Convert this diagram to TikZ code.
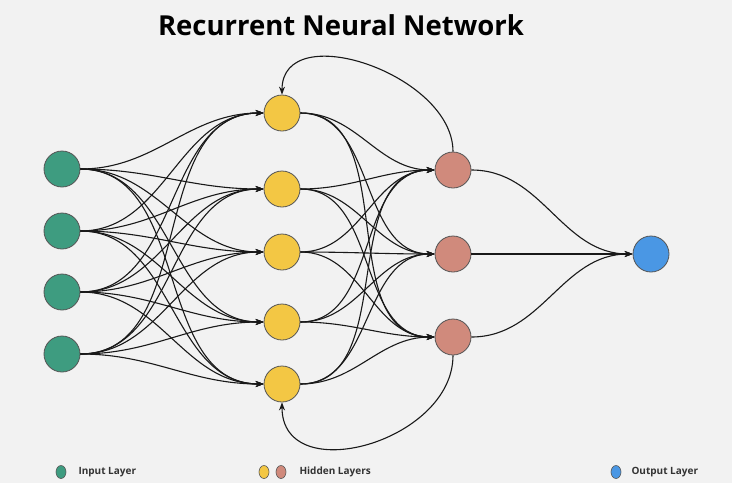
\documentclass[tikz,border=0pt]{standalone}
\usepackage{fontspec}
\setmainfont{Open Sans}
\usetikzlibrary{arrows.meta,shapes.geometric}

\definecolor{bgGray}{HTML}{F2F2F2}
\definecolor{inGreen}{HTML}{3E9C80}
\definecolor{hidYellow}{HTML}{F3C744}
\definecolor{hidRed}{HTML}{D08A7C}
\definecolor{outBlue}{HTML}{4A97E4}
\definecolor{rimGray}{HTML}{555555}

\tikzset{
    neuron/.style={circle, draw=rimGray, line width=0.8pt, minimum size=36pt, inner sep=0pt},
    legenddot/.style={ellipse, draw=rimGray, line width=0.6pt, minimum width=10pt, minimum height=13pt, inner sep=0pt},
    legendtext/.style={anchor=west, font=\bfseries\fontsize{10}{12}\selectfont, text=black!80},
    link/.style={-{Stealth[length=8pt,width=6pt]}, line width=1.1pt, black!90},
}

\begin{document}
\begin{tikzpicture}[x=1pt, y=-1pt]
        \fill[bgGray] (0,0) rectangle (732,483);
        \fill[white] (0,483) rectangle (732,488);
        \useasboundingbox (0,0) rectangle (732,488);

        \node[font=\bfseries\fontsize{27.5}{32}\selectfont] (title) at (341,25) {Recurrent Neural Network};

        % input layer
        \node[neuron, fill=inGreen] (in1) at (62,169) {};
        \node[neuron, fill=inGreen] (in2) at (62,231) {};
        \node[neuron, fill=inGreen] (in3) at (62,292) {};
        \node[neuron, fill=inGreen] (in4) at (62,354) {};

        % first hidden layer
        \node[neuron, fill=hidYellow] (ha1) at (282,113) {};
        \node[neuron, fill=hidYellow] (ha2) at (282,189) {};
        \node[neuron, fill=hidYellow] (ha3) at (282,252) {};
        \node[neuron, fill=hidYellow] (ha4) at (282,322) {};
        \node[neuron, fill=hidYellow] (ha5) at (282,384) {};

        % second hidden layer
        \node[neuron, fill=hidRed] (hb1) at (453,170) {};
        \node[neuron, fill=hidRed] (hb2) at (453,254) {};
        \node[neuron, fill=hidRed] (hb3) at (453,337) {};

        % output layer
        \node[neuron, fill=outBlue] (out) at (651,254) {};

        \foreach \i in {1,...,4}
            \foreach \j in {1,...,5}
                \draw[link] (in\i.east) to[out=0, in=180] (ha\j.west);
        \foreach \j in {1,...,5}
            \foreach \k in {1,...,3}
                \draw[link] (ha\j.east) to[out=0, in=180] (hb\k.west);
        \foreach \k in {1,...,3}
            \draw[link] (hb\k.east) to[out=0, in=180] (out.west);

        % recurrent loops
        \draw[link] (hb1.north) to[out=90, in=90, looseness=1.1] (ha1.north);
        \draw[link] (hb3.south) to[out=-90, in=-90, looseness=1.25] (ha5.south);

        % legend
        \node[legenddot, fill=inGreen] (lgIn) at (61,472) {};
        \node[legendtext] (lgInText) at (75,472) {Input Layer};
        \node[legenddot, fill=hidYellow] (lgHa) at (264,472) {};
        \node[legenddot, fill=hidRed] (lgHb) at (281,472) {};
        \node[legendtext] (lgHidText) at (296,472) {Hidden Layers};
        \node[legenddot, fill=outBlue] (lgOut) at (616,472) {};
        \node[legendtext] (lgOutText) at (628,472) {Output Layer};
    \end{tikzpicture}
\end{document}
